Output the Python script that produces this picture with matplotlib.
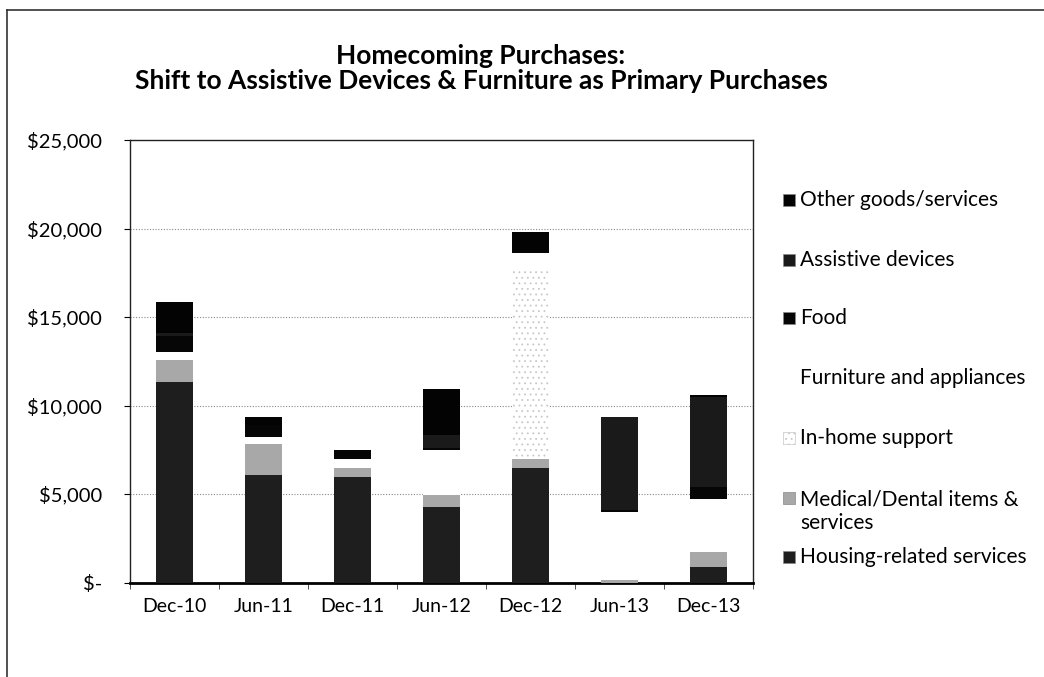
#!/usr/bin/env python3

import matplotlib
matplotlib.use("Agg")
import matplotlib.pyplot as plt
import matplotlib.patches as mpatches
from matplotlib.ticker import FuncFormatter, FixedLocator
import numpy as np

plt.rcParams['font.family'] = ['Lato', 'DejaVu Sans']
plt.rcParams['hatch.linewidth'] = 0.6

# data (dollars)
periods = ['Dec-10', 'Jun-11', 'Dec-11', 'Jun-12', 'Dec-12', 'Jun-13', 'Dec-13']
housing = [11330, 6050, 5960, 4260, 6490, 0, 870]
medical = [1220, 1800, 530, 660, 510, 150, 850]
inhome = [0, 0, 0, 0, 10600, 0, 0]
furniture = [450, 350, 510, 2550, 1000, 3830, 3010]
food = [900, 700, 500, 150, 170, 100, 660]
assistive = [200, 0, 0, 700, 0, 5270, 5090]
other = [1750, 450, 0, 2590, 1050, 0, 100]

series_names = ['Housing-related services', 'Medical/Dental items &\nservices',
                'In-home support', 'Furniture and appliances', 'Food',
                'Assistive devices', 'Other goods/services']
series_values = [housing, medical, inhome, furniture, food, assistive, other]
# greys of the photocopied original
series_colors = ['#1e1e1e', '#a8a8a8', '#ffffff', '#ffffff', '#060606', '#1a1a1a', '#030303']
series_hatch = [None, None, '...', None, None, None, None]

W, H = 1044, 677
fig = plt.figure(figsize=(W / 100, H / 100), dpi=100)
ax = fig.add_axes([130 / W, 1 - 582.5 / H, (753 - 130) / W, (582.5 - 140) / H])

x = np.arange(len(periods))
bottom = np.zeros(len(periods))
for name, vals, col, hat in zip(series_names, series_values, series_colors, series_hatch):
    vals = np.array(vals, dtype=float)
    ax.bar(x, vals, 0.41, bottom=bottom, color=col, hatch=hat,
           edgecolor='#c8c8c8' if hat else 'none', linewidth=0, zorder=3)
    bottom += vals

ax.set_xlim(-0.5, len(periods) - 0.5)
ax.set_ylim(0, 25000)
ax.set_yticks(np.arange(0, 25001, 5000))
ax.yaxis.set_major_formatter(FuncFormatter(
    lambda v, p: '$-' if v == 0 else '${:,.0f}'.format(v)))
ax.grid(axis='y', color='#888888', linestyle=(0, (1, 1.5)), linewidth=0.8, zorder=0)

ax.set_xticks(x)
ax.set_xticklabels(periods)
ax.xaxis.set_minor_locator(FixedLocator(np.arange(-0.5, len(periods), 1.0)))
ax.tick_params(axis='x', which='major', length=0, pad=11, labelsize=14)
ax.tick_params(axis='x', which='minor', length=4, direction='out', color='#333333')
ax.tick_params(axis='y', length=4, direction='out', pad=16, labelsize=14.5)

for side in ['top', 'right', 'left']:
    ax.spines[side].set_linewidth(1.0)
    ax.spines[side].set_color('#222222')
ax.spines['bottom'].set_linewidth(2.0)

# title
fig.text(481 / W, 1 - 44 / H,
         'Homecoming Purchases:\nShift to Assistive Devices & Furniture as Primary Purchases',
         ha='center', va='top', fontsize=19, fontweight='bold', linespacing=1.05)

# legend, stacked in reverse order like the original
legend_y = [557, 511, 438, 378, 318, 260, 200]
for name, col, hat, ly in zip(series_names, series_colors, series_hatch, legend_y):
    fig.text(800 / W, 1 - ly / H, name, ha='left', va='center', fontsize=15,
             linespacing=1.2)
    if col != '#ffffff' or hat:
        sy = ly if '\n' not in name else ly - 13
        fig.patches.append(mpatches.Rectangle((783 / W, 1 - (sy + 6) / H), 12 / W, 12 / H,
                                              transform=fig.transFigure,
                                              facecolor=col, hatch=hat,
                                              edgecolor='#888888' if not hat else '#c8c8c8',
                                              linewidth=0.5))

# frame of the scanned page (top and left edges only)
fig.add_artist(plt.Line2D([7 / W, 1], [1 - 10 / H, 1 - 10 / H], color='#333333',
                          linewidth=1.2, transform=fig.transFigure))
fig.add_artist(plt.Line2D([7 / W, 7 / W], [0, 1 - 10 / H], color='#333333',
                          linewidth=1.2, transform=fig.transFigure))

fig.savefig('out.png', dpi=100)
